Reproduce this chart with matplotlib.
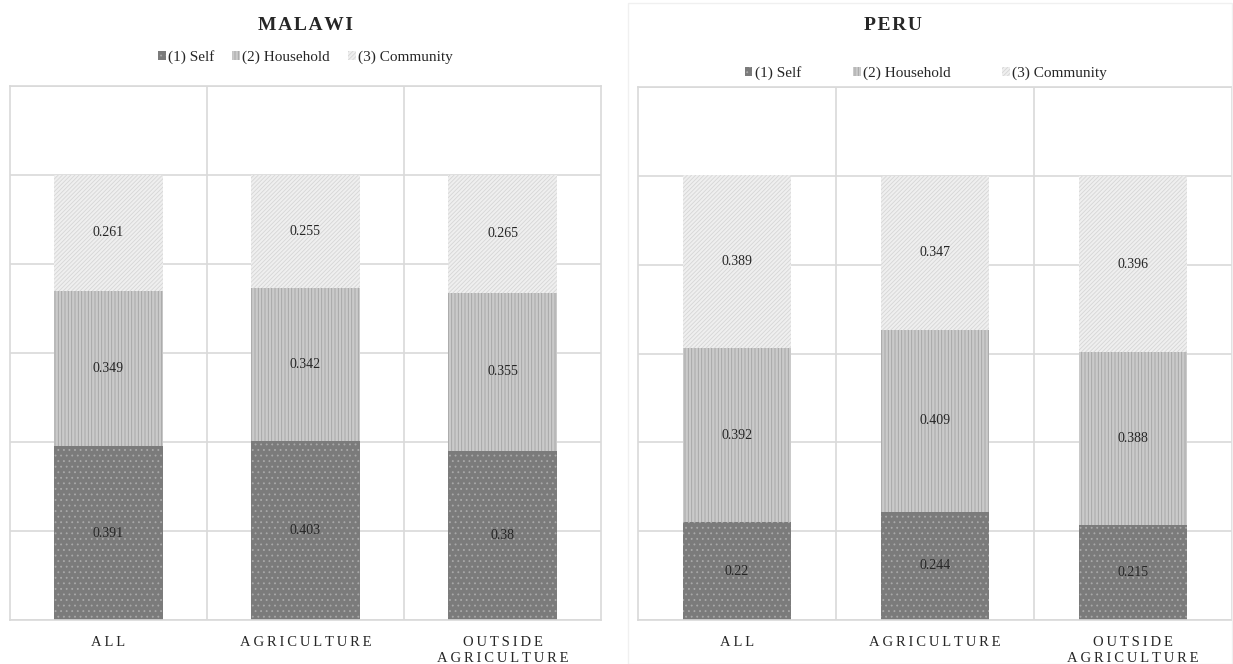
import numpy as np
import matplotlib
matplotlib.use("Agg")
import matplotlib.pyplot as plt
from matplotlib.patches import Patch, Rectangle

plt.rcParams['font.family'] = ['Liberation Serif', 'DejaVu Serif']
plt.rcParams['hatch.linewidth'] = 0.6

categories = ["ALL", "AGRICULTURE", "OUTSIDE\nAGRICULTURE"]
series_names = ["(1) Self", "(2) Household", "(3) Community"]

malawi_self = [0.391, 0.403, 0.38]
malawi_household = [0.349, 0.342, 0.355]
malawi_community = [0.261, 0.255, 0.265]

peru_self = [0.22, 0.244, 0.215]
peru_household = [0.392, 0.409, 0.388]
peru_community = [0.389, 0.347, 0.396]

styles = [
    dict(facecolor="#7b7b7b", edgecolor="#a9a9a9", hatch="..."),
    dict(facecolor="#cacaca", edgecolor="#a3a3a3", hatch="|||||"),
    dict(facecolor="#efefef", edgecolor="#d6d6d6", hatch="////////"),
]

GRID = "#d9d9d9"
TEXT = "#262626"


def spaced(label):
    return "\n".join("\u2009".join(line) for line in label.split("\n"))


def draw_panel(ax, series, legend_spacing, legend_anchor):
    x = np.arange(len(categories))
    bottom = np.zeros(len(categories))
    for vals, st in zip(series, styles):
        vals = np.asarray(vals)
        ax.bar(x, vals, 0.55, bottom=bottom, linewidth=0, zorder=2, **st)
        for xi, b, v in zip(x, bottom, vals):
            ax.text(xi, b + v / 2, f"{v:g}", ha="center", va="center",
                    fontsize=10, color=TEXT, zorder=3)
        bottom = bottom + vals

    ax.set_xlim(-0.5, len(categories) - 0.5)
    ax.set_ylim(0, 1.2)
    ax.set_yticks(np.arange(0, 1.21, 0.2))
    ax.yaxis.grid(True, color=GRID, linewidth=1.2, zorder=0)
    for b in np.arange(0.5, len(categories) - 0.5, 1.0):
        ax.axvline(b, color=GRID, linewidth=1.2, zorder=0)
    ax.tick_params(axis="y", left=False, labelleft=False)
    ax.tick_params(axis="x", bottom=False, pad=8)
    ax.set_xticks(x)
    ax.set_xticklabels([spaced(c) for c in categories], fontsize=10.5,
                       color=TEXT, linespacing=1.3, va="top")
    for s in ax.spines.values():
        s.set_color(GRID)
        s.set_linewidth(1.2)
    ax.set_axisbelow(True)

    handles = [Patch(**st, linewidth=0, label=n) for st, n in zip(styles, series_names)]
    ax.legend(handles=handles, loc="center", bbox_to_anchor=legend_anchor,
              ncol=3, frameon=False, fontsize=11, handlelength=0.5,
              handleheight=0.5, handletextpad=0.15, columnspacing=legend_spacing,
              labelcolor=TEXT, borderpad=0)


fig = plt.figure(figsize=(12.33, 6.64), dpi=100)

# faint outline of the right chart area
fig.patches.append(Rectangle((628 / 1233, 0.0), 1 - 628 / 1233 - 0.001, 1 - 3 / 664,
                             transform=fig.transFigure, fill=False,
                             edgecolor="#f0f0f0", linewidth=1))

ax1 = fig.add_axes([10 / 1233, 44 / 664, 591 / 1233, 534 / 664])
ax2 = fig.add_axes([638 / 1233, 44 / 664, 594 / 1233, 533 / 664])

draw_panel(ax1, [malawi_self, malawi_household, malawi_community], 1.2,
           (0.5, 1 + (86 - 57) / 534))
draw_panel(ax2, [peru_self, peru_household, peru_community], 3.4,
           ((926 - 638) / 594, 1 + (87 - 73) / 533))

fig.text(305 / 1233, 1 - 26 / 664, "M\u200aA\u200aL\u200aA\u200aW\u200aI",
         ha="center", va="center", fontsize=14, fontweight="bold", color=TEXT)
fig.text(893 / 1233, 1 - 26 / 664, "P\u200aE\u200aR\u200aU",
         ha="center", va="center", fontsize=14, fontweight="bold", color=TEXT)

fig.savefig("out.png", dpi=100, facecolor="white")
